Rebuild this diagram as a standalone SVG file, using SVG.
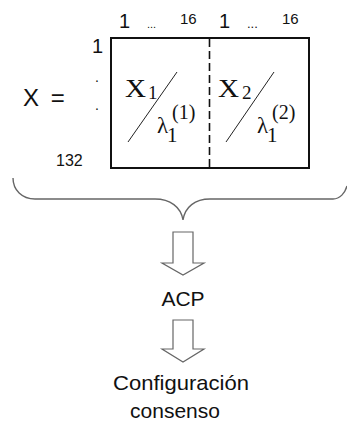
<svg xmlns="http://www.w3.org/2000/svg" width="347" height="423" viewBox="0 0 347 423">
<style>
.sans{font-family:"Liberation Sans",Arial,sans-serif;fill:#111}
.serif{font-family:"Liberation Serif","Times New Roman",serif;fill:#111}
.blk{fill:#fff;stroke:#666;stroke-width:1.2}
.thin{stroke:#222;stroke-width:1;fill:none}
</style>
<rect width="347" height="423" fill="#fff"/>
<g id="labels">
<text class="sans" x="119" y="28" font-size="20">1</text>
<text class="sans" x="147" y="28" font-size="11">...</text>
<text class="sans" x="180" y="24" font-size="15">16</text>
<text class="sans" x="219" y="28" font-size="20">1</text>
<text class="sans" x="247" y="28" font-size="13">...</text>
<text class="sans" x="282" y="24" font-size="15">16</text>
<text class="sans" x="92" y="53" font-size="20">1</text>
<text class="sans" x="95" y="82" font-size="14">.</text>
<text class="sans" x="95" y="110" font-size="14">.</text>
<text class="sans" x="56" y="166" font-size="16">132</text>
<text class="sans" x="23" y="106" font-size="24" word-spacing="5">X =</text>
</g>
<g id="matrix">
<rect x="111" y="38" width="198" height="130" fill="none" stroke="#111" stroke-width="2"/>
<line x1="209.5" y1="39" x2="209.5" y2="167" stroke="#111" stroke-width="1.6" stroke-dasharray="8,4"/>
</g>
<g id="block1">
<text class="serif" x="125" y="97" font-size="25" textLength="21" lengthAdjust="spacingAndGlyphs">X</text>
<text class="serif" x="148" y="99" font-size="19">1</text>
<line class="thin" x1="128" y1="142" x2="177" y2="72"/>
<text class="serif" x="157" y="133" font-size="23">λ</text>
<text class="serif" x="167" y="142" font-size="21">1</text>
<text class="serif" x="172" y="119" font-size="20">(1)</text>
</g>
<g id="block2">
<text class="serif" x="218" y="97" font-size="25" textLength="21" lengthAdjust="spacingAndGlyphs">X</text>
<text class="serif" x="242" y="99" font-size="19">2</text>
<line class="thin" x1="226" y1="142" x2="274" y2="72"/>
<text class="serif" x="257" y="133" font-size="23">λ</text>
<text class="serif" x="267" y="142" font-size="21">1</text>
<text class="serif" x="272" y="119" font-size="20">(2)</text>
</g>
<g id="connectors">
<path d="M13,178 C13,190 22,199 35,199 L155,199 C170,199 181,207 183,220 C185,207 195,199 210,199 L333,199 C340,199 345,193 347,186" fill="none" stroke="#666" stroke-width="1.4"/>
<polygon class="blk" points="173,232 193,232 193,263 204,263 183,275 162,263 173,263"/>
<polygon class="blk" points="173,320 193,320 193,349 204,349 183,362 162,349 173,349"/>
</g>
<g id="acp">
<text class="sans" x="183" y="306" font-size="21" text-anchor="middle">ACP</text>
</g>
<g id="config">
<text class="sans" x="181" y="390" font-size="21" text-anchor="middle" textLength="136" lengthAdjust="spacingAndGlyphs">Configuración</text>
<text class="sans" x="175" y="418" font-size="21" text-anchor="middle">consenso</text>
</g>
</svg>
